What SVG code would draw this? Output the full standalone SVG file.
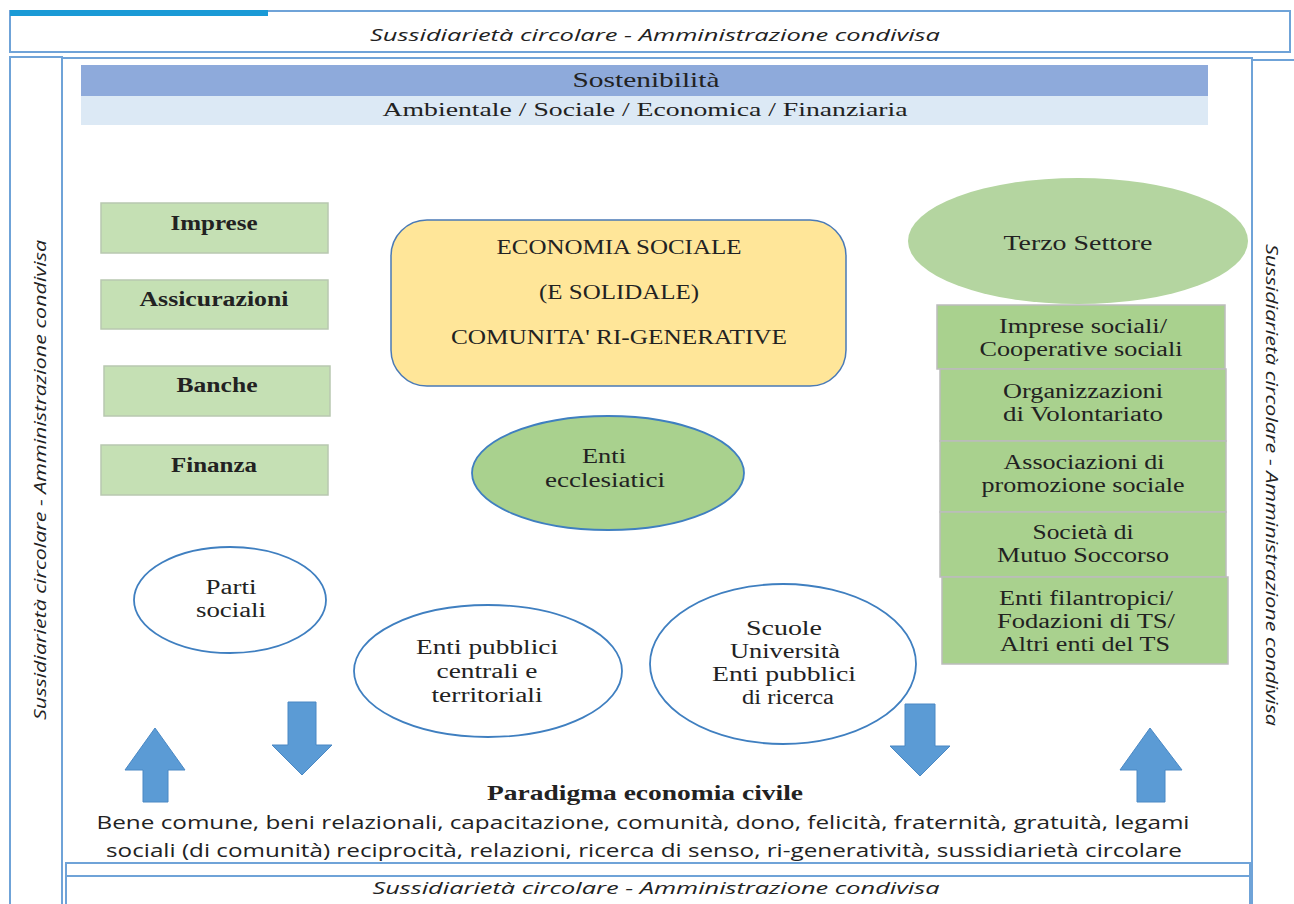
<svg xmlns="http://www.w3.org/2000/svg" width="1294" height="904" viewBox="0 0 1294 904">
<style>
.frame{fill:#fff;stroke:#6fa3d8;stroke-width:2}
.ital{font-family:"Open Sans","Liberation Sans",sans-serif;font-style:italic;font-size:17px;fill:#222}
.ser{font-family:"Liberation Serif",serif;fill:#222;text-anchor:middle}
.gbox{fill:#c5e0b4;stroke:#b8c8b0;stroke-width:1.5}
.tbox{fill:#a9d18e;stroke:#bcbcbc;stroke-width:1.5}
.oval{fill:#fff;stroke:#3f7fc0;stroke-width:1.8}
.arr{fill:#5b9bd5;stroke:#4a88c4;stroke-width:1}
.lbl{font-size:20px}
.sans{font-family:"Open Sans","Liberation Sans",sans-serif;fill:#222;text-anchor:middle;font-size:19px}
</style>
<rect width="1294" height="904" fill="#fff"/>
<g id="frame-top">
<rect class="frame" x="10" y="11" width="1280" height="41"/>
<rect x="10" y="10" width="258" height="6" fill="#1a9ad6"/>
<text class="ital" x="655" y="41" text-anchor="middle" textLength="570" lengthAdjust="spacingAndGlyphs">Sussidiarietà circolare - Amministrazione condivisa</text>
</g>
<g id="frame-left">
<rect class="frame" x="10" y="57" width="52" height="850"/>
<text class="ital" transform="translate(46,480) rotate(-90)" text-anchor="middle" textLength="480" lengthAdjust="spacingAndGlyphs">Sussidiarietà circolare - Amministrazione condivisa</text>
</g>
<g id="frame-main">
<rect class="frame" x="62" y="58" width="1190" height="850"/>
</g>
<g id="frame-right">
<rect class="frame" x="1252" y="60" width="44" height="850"/>
<text class="ital" transform="translate(1266,485) rotate(90)" text-anchor="middle" textLength="482" lengthAdjust="spacingAndGlyphs">Sussidiarietà circolare - Amministrazione condivisa</text>
</g>
<g id="sostenibilita">
<rect x="81" y="65" width="1127" height="31" fill="#8eaadb"/>
<rect x="81" y="96" width="1127" height="29" fill="#dce9f5"/>
<text class="ser" x="646" y="87" font-size="21" textLength="147" lengthAdjust="spacingAndGlyphs">Sostenibilità</text>
<text class="ser" x="645" y="116" font-size="19" textLength="525" lengthAdjust="spacingAndGlyphs">Ambientale / Sociale / Economica / Finanziaria</text>
</g>
<g id="imprese"><rect class="gbox" x="101" y="203" width="227" height="50"/><text class="ser lbl" x="214" y="230" font-weight="bold" textLength="87" lengthAdjust="spacingAndGlyphs">Imprese</text></g>
<g id="assicurazioni"><rect class="gbox" x="101" y="280" width="227" height="49"/><text class="ser lbl" x="214" y="306" font-weight="bold" textLength="149" lengthAdjust="spacingAndGlyphs">Assicurazioni</text></g>
<g id="banche"><rect class="gbox" x="104" y="366" width="226" height="50"/><text class="ser lbl" x="217" y="392" font-weight="bold" textLength="81" lengthAdjust="spacingAndGlyphs">Banche</text></g>
<g id="finanza"><rect class="gbox" x="101" y="445" width="227" height="50"/><text class="ser lbl" x="214" y="472" font-weight="bold" textLength="86" lengthAdjust="spacingAndGlyphs">Finanza</text></g>
<g id="economia-sociale">
<rect x="391" y="220" width="455" height="166" rx="36" fill="#ffe699" stroke="#4a7ab6" stroke-width="1.5"/>
<text class="ser lbl" x="619" y="254" textLength="245" lengthAdjust="spacingAndGlyphs">ECONOMIA SOCIALE</text>
<text class="ser lbl" x="619" y="299" textLength="160" lengthAdjust="spacingAndGlyphs">(E SOLIDALE)</text>
<text class="ser lbl" x="619" y="344" textLength="336" lengthAdjust="spacingAndGlyphs">COMUNITA' RI-GENERATIVE</text>
</g>
<g id="enti-ecclesiatici">
<ellipse cx="608" cy="473" rx="136" ry="57" fill="#a9d18e" stroke="#3f7fc0" stroke-width="1.8"/>
<text class="ser lbl" x="604" y="463" textLength="44" lengthAdjust="spacingAndGlyphs">Enti</text>
<text class="ser lbl" x="605" y="487" textLength="120" lengthAdjust="spacingAndGlyphs">ecclesiatici</text>
</g>
<g id="terzo-settore">
<ellipse cx="1078" cy="241" rx="170" ry="63" fill="#b4d5a0"/>
<text class="ser lbl" x="1078" y="250" textLength="149" lengthAdjust="spacingAndGlyphs">Terzo Settore</text>
</g>
<g id="imprese-sociali"><rect class="tbox" x="937" y="305" width="288" height="64"/><text class="ser lbl" x="1083" y="333" textLength="168" lengthAdjust="spacingAndGlyphs">Imprese sociali/</text><text class="ser lbl" x="1081" y="356" textLength="203" lengthAdjust="spacingAndGlyphs">Cooperative sociali</text></g>
<g id="odv"><rect class="tbox" x="940" y="369" width="286" height="72"/><text class="ser lbl" x="1083" y="398" textLength="160" lengthAdjust="spacingAndGlyphs">Organizzazioni</text><text class="ser lbl" x="1083" y="421" textLength="160" lengthAdjust="spacingAndGlyphs">di Volontariato</text></g>
<g id="aps"><rect class="tbox" x="940" y="441" width="286" height="71"/><text class="ser lbl" x="1084" y="469" textLength="161" lengthAdjust="spacingAndGlyphs">Associazioni di</text><text class="ser lbl" x="1083" y="492" textLength="203" lengthAdjust="spacingAndGlyphs">promozione sociale</text></g>
<g id="sms"><rect class="tbox" x="940" y="512" width="286" height="65"/><text class="ser lbl" x="1083" y="539" textLength="101" lengthAdjust="spacingAndGlyphs">Società di</text><text class="ser lbl" x="1083" y="562" textLength="172" lengthAdjust="spacingAndGlyphs">Mutuo Soccorso</text></g>
<g id="enti-filantropici"><rect class="tbox" x="942" y="577" width="286" height="87"/><text class="ser lbl" x="1086" y="605" textLength="174" lengthAdjust="spacingAndGlyphs">Enti filantropici/</text><text class="ser lbl" x="1086" y="628" textLength="178" lengthAdjust="spacingAndGlyphs">Fodazioni di TS/</text><text class="ser lbl" x="1085" y="651" textLength="170" lengthAdjust="spacingAndGlyphs">Altri enti del TS</text></g>
<g id="parti-sociali">
<ellipse class="oval" cx="230" cy="600" rx="96" ry="53"/>
<text class="ser lbl" x="231" y="594" textLength="51" lengthAdjust="spacingAndGlyphs">Parti</text>
<text class="ser lbl" x="231" y="617" textLength="70" lengthAdjust="spacingAndGlyphs">sociali</text>
</g>
<g id="enti-pubblici">
<ellipse class="oval" cx="488" cy="671" rx="134" ry="66"/>
<text class="ser lbl" x="487" y="654" textLength="142" lengthAdjust="spacingAndGlyphs">Enti pubblici</text>
<text class="ser lbl" x="487" y="678" textLength="101" lengthAdjust="spacingAndGlyphs">centrali e</text>
<text class="ser lbl" x="487" y="702" textLength="111" lengthAdjust="spacingAndGlyphs">territoriali</text>
</g>
<g id="scuole">
<ellipse class="oval" cx="783" cy="664" rx="133" ry="80"/>
<text class="ser lbl" x="784" y="635" textLength="76" lengthAdjust="spacingAndGlyphs">Scuole</text>
<text class="ser lbl" x="785" y="658" textLength="110" lengthAdjust="spacingAndGlyphs">Università</text>
<text class="ser lbl" x="784" y="681" textLength="144" lengthAdjust="spacingAndGlyphs">Enti pubblici</text>
<text class="ser lbl" x="788" y="704" textLength="92" lengthAdjust="spacingAndGlyphs">di ricerca</text>
</g>
<g id="connectors">
<polygon class="arr" points="155,728 185,770 168,770 168,802 143,802 143,770 125,770"/>
<polygon class="arr" points="288,702 316,702 316,745 332,745 302,775 272,745 288,745"/>
<polygon class="arr" points="905,704 935,704 935,746 950,746 920,776 890,746 905,746"/>
<polygon class="arr" points="1150,728 1182,770 1165,770 1165,802 1137,802 1137,770 1120,770"/>
</g>
<g id="paradigma">
<text class="ser" x="645" y="800" font-size="21" font-weight="bold" textLength="316" lengthAdjust="spacingAndGlyphs">Paradigma economia civile</text>
<text class="sans" x="643" y="829" textLength="1093" lengthAdjust="spacingAndGlyphs">Bene comune, beni relazionali, capacitazione, comunità, dono, felicità, fraternità, gratuità,  legami</text>
<text class="sans" x="644" y="857" textLength="1076" lengthAdjust="spacingAndGlyphs">sociali (di comunità) reciprocità, relazioni, ricerca di senso, ri-generatività, sussidiarietà circolare</text>
</g>
<g id="frame-bottom">
<rect class="frame" x="66" y="863" width="1184" height="50"/>
<line x1="66" y1="876" x2="1250" y2="876" stroke="#6fa3d8" stroke-width="2"/>
<text class="ital" x="656" y="894" text-anchor="middle" textLength="567" lengthAdjust="spacingAndGlyphs">Sussidiarietà circolare - Amministrazione condivisa</text>
</g>
</svg>
